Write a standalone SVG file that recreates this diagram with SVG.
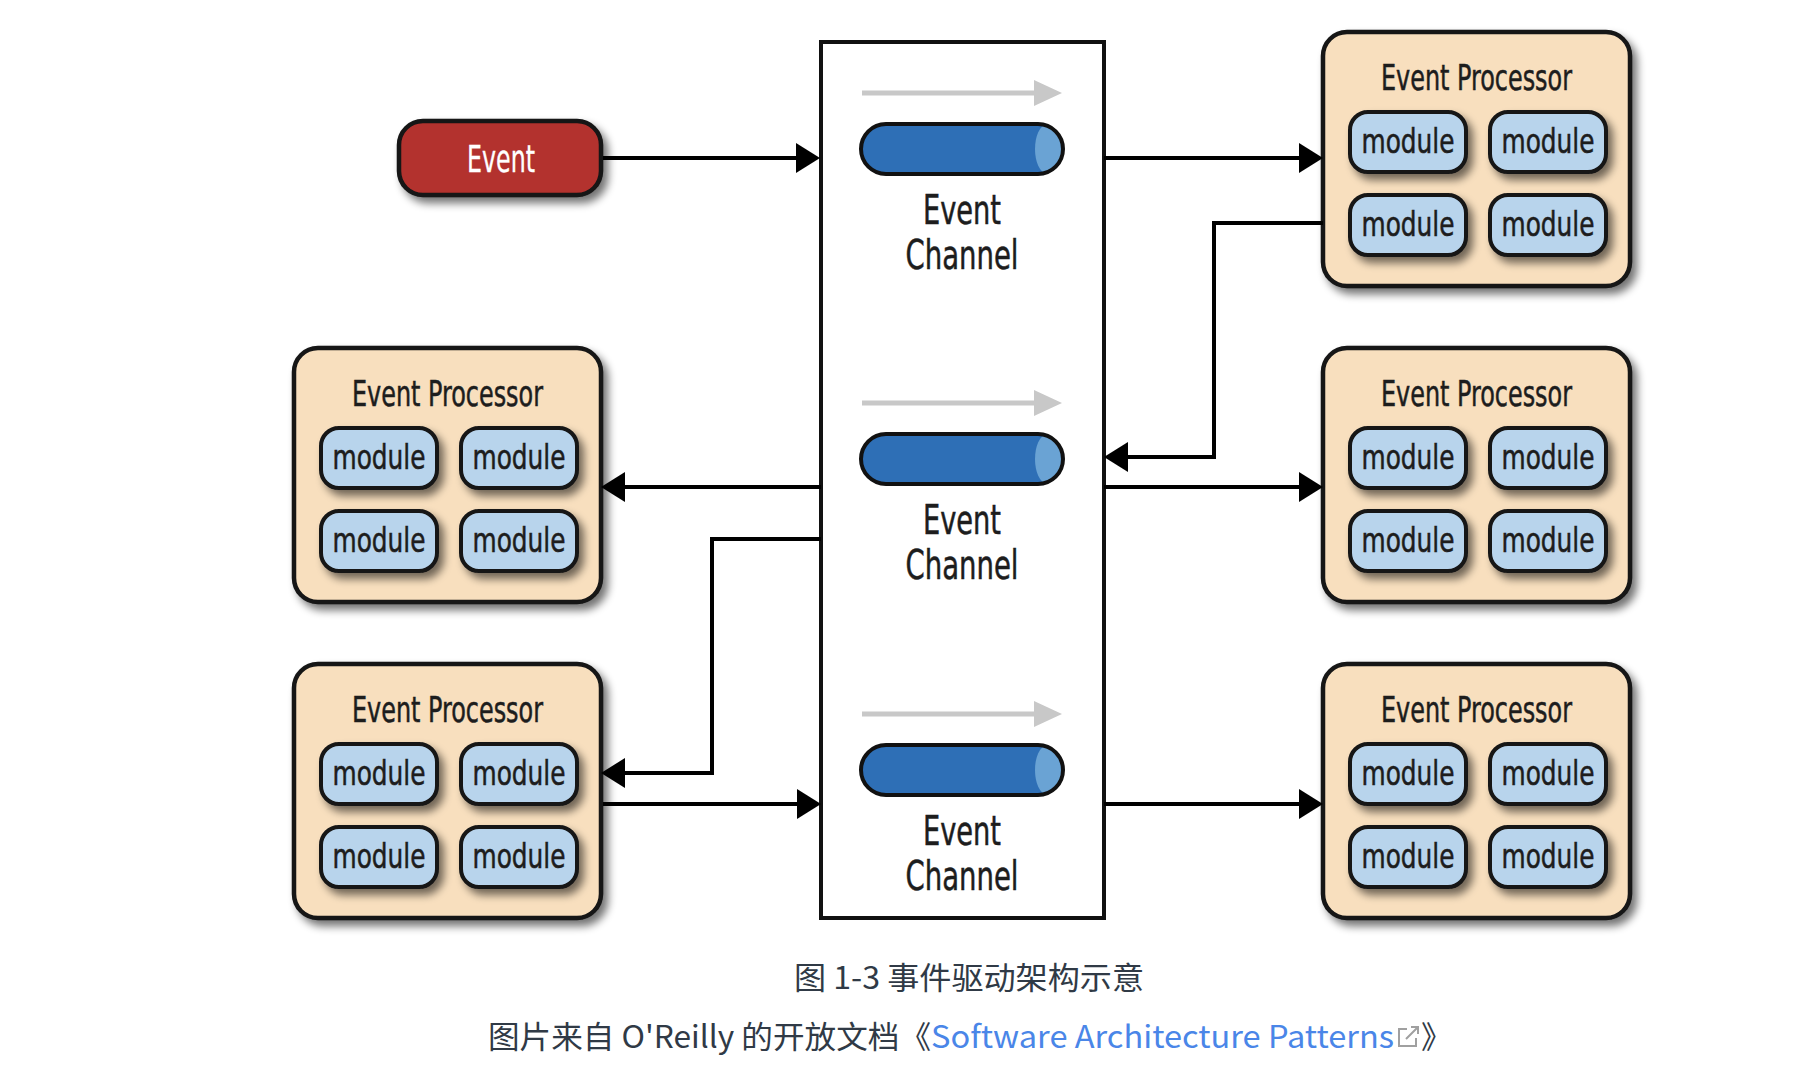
<svg xmlns="http://www.w3.org/2000/svg" width="1796" height="1076" viewBox="0 0 1796 1076">
<style>
.box{fill:#f8dfbe;stroke:#151515;stroke-width:4.5}
.mod{fill:#b8d4ec;stroke:#151515;stroke-width:4}
.t{font-family:"Liberation Sans Narrow","DejaVu Sans Condensed","Liberation Sans",sans-serif;fill:#1d1d1d;text-anchor:middle;stroke:#1d1d1d;stroke-width:0.5}
.title{font-size:35px}
.mt{font-size:34px}
.ch{font-size:40px}
.conn{fill:none;stroke:#000;stroke-width:4;marker-end:url(#ah)}
.cyl{fill:#2e6fb6}
.cap{fill:#6aa3d4}
.cylo{fill:none;stroke:#111;stroke-width:4}
.gr{stroke:#c8c8c8;stroke-width:5}
.grh{fill:#c8c8c8}
.capt{font-family:"Noto Sans CJK SC","Noto Sans",sans-serif;font-size:31px;fill:#303a46}
.link{fill:#4a86e8}
</style>
<defs>
<filter id="sh" x="-20%" y="-20%" width="150%" height="150%">
<feGaussianBlur in="SourceAlpha" stdDeviation="4"/>
<feOffset dx="5" dy="6" result="b"/>
<feComponentTransfer><feFuncA type="linear" slope="0.55"/></feComponentTransfer>
<feMerge><feMergeNode/><feMergeNode in="SourceGraphic"/></feMerge>
</filter>
<marker id="ah" markerUnits="userSpaceOnUse" markerWidth="26" markerHeight="32" refX="14" refY="15" orient="auto">
<path d="M0,0 L24,15 L0,30 Z" fill="#000"/>
</marker>
<g id="ep">
<rect class="box" x="0" y="0" width="307" height="254" rx="24" filter="url(#sh)"/>
<text class="t title" x="153.5" y="58" textLength="191" lengthAdjust="spacingAndGlyphs">Event Processor</text>
<rect class="mod" x="27" y="80" width="116" height="60" rx="18" filter="url(#sh)"/>
<rect class="mod" x="167" y="80" width="116" height="60" rx="18" filter="url(#sh)"/>
<rect class="mod" x="27" y="163" width="116" height="60" rx="18" filter="url(#sh)"/>
<rect class="mod" x="167" y="163" width="116" height="60" rx="18" filter="url(#sh)"/>
<text class="t mt" x="85" y="121" textLength="93" lengthAdjust="spacingAndGlyphs">module</text>
<text class="t mt" x="225" y="121" textLength="93" lengthAdjust="spacingAndGlyphs">module</text>
<text class="t mt" x="85" y="204" textLength="93" lengthAdjust="spacingAndGlyphs">module</text>
<text class="t mt" x="225" y="204" textLength="93" lengthAdjust="spacingAndGlyphs">module</text>
</g>
<g id="chan">
<line class="gr" x1="862" y1="0" x2="1036" y2="0"/>
<path class="grh" d="M1034,-13 L1062,0 L1034,13 Z"/>
<rect class="cyl" x="861" y="31" width="202" height="50" rx="25"/>
<path class="cap" d="M1046,32.3 A11,23.7 0 0 0 1046,79.7 A25,25 0 0 0 1046,32.3 Z"/>
<rect class="cylo" x="861" y="31" width="202" height="50" rx="25"/>
<text class="t ch" x="962" y="131" textLength="78" lengthAdjust="spacingAndGlyphs">Event</text>
<text class="t ch" x="962" y="176" textLength="113" lengthAdjust="spacingAndGlyphs">Channel</text>
</g>
</defs>

<g id="event-channel-box">
<rect x="821" y="42" width="283" height="876" fill="#fff" stroke="#111" stroke-width="4"/>
</g>
<g id="channel-1"><use href="#chan" transform="translate(0,93)"/></g>
<g id="channel-2"><use href="#chan" transform="translate(0,403)"/></g>
<g id="channel-3"><use href="#chan" transform="translate(0,714)"/></g>

<g id="event">
<rect x="399" y="121" width="202" height="74" rx="24" fill="#b3322f" stroke="#151515" stroke-width="4.5" filter="url(#sh)"/>
<text class="t" x="501" y="172" font-size="37" style="fill:#fff;stroke:#fff;stroke-width:0.3" textLength="68" lengthAdjust="spacingAndGlyphs">Event</text>
</g>

<g id="processor-top-right"><use href="#ep" transform="translate(1323,32)"/></g>
<g id="processor-mid-right"><use href="#ep" transform="translate(1323,348)"/></g>
<g id="processor-bottom-right"><use href="#ep" transform="translate(1323,664)"/></g>
<g id="processor-mid-left"><use href="#ep" transform="translate(294,348)"/></g>
<g id="processor-bottom-left"><use href="#ep" transform="translate(294,664)"/></g>

<g id="connectors">
<path class="conn" d="M603,158 H810"/>
<path class="conn" d="M1104,158 H1313"/>
<path class="conn" d="M1323,223 H1214 V457 H1114"/>
<path class="conn" d="M1104,487 H1313"/>
<path class="conn" d="M821,487 H611"/>
<path class="conn" d="M821,539 H712 V773 H611"/>
<path class="conn" d="M603,804 H811"/>
<path class="conn" d="M1104,804 H1313"/>
</g>

<g id="caption">
<text class="capt" x="794" y="989" textLength="350" lengthAdjust="spacingAndGlyphs">图 1-3 事件驱动架构示意</text>
<text class="capt" x="488" y="1048" textLength="443" lengthAdjust="spacingAndGlyphs">图片来自 O'Reilly 的开放文档《</text>
<text class="capt link" x="931" y="1048" textLength="463" lengthAdjust="spacingAndGlyphs">Software Architecture Patterns</text>
<g fill="none" stroke="#a0a0a0" stroke-width="2">
<path d="M1407,1029 H1399 V1046 H1416 V1038"/>
<path d="M1406,1039 L1418,1027 M1411,1027 H1418 V1034"/>
</g>
<text class="capt" x="1421" y="1048">》</text>
</g>
</svg>
